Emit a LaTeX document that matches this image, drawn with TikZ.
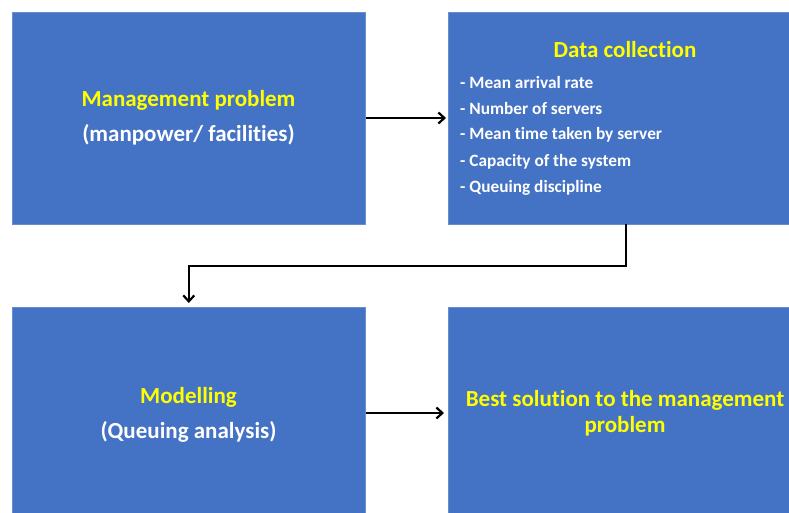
\documentclass[tikz,border=0pt]{standalone}
\usepackage{fontspec}
\setmainfont{Carlito}[Ligatures={NoCommon}]
\usetikzlibrary{arrows.meta}
\definecolor{boxblue}{HTML}{4472C4}
\definecolor{ttlyellow}{HTML}{FFFF00}
\begin{document}
\begin{tikzpicture}[x=1pt,y=-1pt,
  blk/.style={draw=boxblue!80!white,line width=0.6pt,fill=boxblue,inner sep=0pt,anchor=north west},
  ttl/.style={text=ttlyellow,font=\bfseries\fontsize{23}{27}\selectfont,inner sep=0pt},
  sub/.style={text=white,font=\bfseries\fontsize{23}{27}\selectfont,inner sep=0pt},
  itm/.style={text=white,font=\bfseries\fontsize{17.3}{20}\selectfont,inner sep=0pt,anchor=west},
  arr/.style={draw=black,line width=2.6pt,-{Straight Barb[length=6pt,width=11pt,line width=2.2pt]}}
]
\useasboundingbox (0,0) rectangle (789,513);
\node[blk,minimum width=353pt,minimum height=212pt] (a) at (12,12) {};
\node[blk,minimum width=345pt,minimum height=212pt] (b) at (448,12) {};
\node[blk,minimum width=353pt,minimum height=210pt] (c) at (12,307) {};
\node[blk,minimum width=345pt,minimum height=210pt] (d) at (448,307) {};
% box a text
\node[ttl] (a1) at (188.5,100) {Management problem};
\node[sub] (a2) at (188.5,135) {(manpower/ facilities)};
% box b text
\node[ttl] (b1) at (625,50) {Data collection};
\node[itm] (b2) at (460,82) {- Mean arrival rate};
\node[itm] (b3) at (460,108.5) {- Number of servers};
\node[itm] (b4) at (460,135) {- Mean time taken by server};
\node[itm] (b5) at (460,161.5) {- Capacity of the system};
\node[itm] (b6) at (460,188) {- Queuing discipline};
% box c text
\node[ttl] (c1) at (188.5,397) {Modelling};
\node[sub] (c2) at (188.5,432) {(Queuing analysis)};
% box d text
\node[ttl] (d1) at (625,400) {Best solution to the management};
\node[ttl] (d2) at (625,426) {problem};
% connectors
\coordinate (e1) at (626,224);
\coordinate (e2) at (626,266);
\draw[arr,shorten >=2pt] (a.east |- 0,118) -- (b.west |- 0,118);
\draw[arr,shorten >=4pt] (e1) -- (e2) -| (c.north);
\draw[arr,shorten >=4pt] (c.east |- 0,413) -- (d.west |- 0,413);
\end{tikzpicture}
\end{document}
